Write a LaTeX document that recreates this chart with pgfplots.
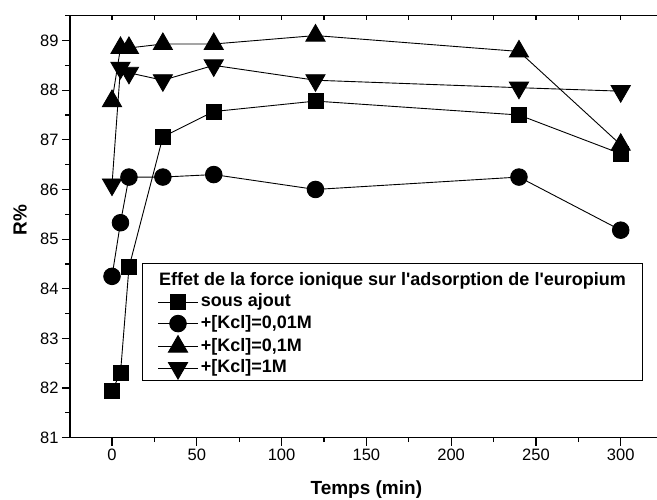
\documentclass[border=0pt]{standalone}
\usepackage{pgfplots}
\pgfplotsset{compat=1.18}
\usepackage{fontspec}
\setmainfont{Liberation Sans}

\begin{document}
\begin{tikzpicture}[x=1pt,y=1pt]
\begin{axis}[
 at={(0,0)}, anchor=south west,
 scale only axis, width=587pt, height=422pt,
 xmin=-24.77, xmax=321.4, ymin=81, ymax=89.5,
 axis x line*=bottom, axis y line*=left,
 axis line style={line width=1.5pt},
 xtick={0,50,...,300}, minor xtick={25,75,...,275},
 ytick={81,...,89}, minor ytick={81.5,82.5,...,89.5},
 tick align=outside,
 major tick length=8pt, minor tick length=4.5pt,
 every tick/.style={line width=1.2pt, black},
 tick label style={font=\fontsize{16.5}{19}\selectfont},
 /pgf/number format/assume math mode=true,
 xlabel={Temps (min)}, ylabel={R\%},
 label style={font=\fontsize{19}{22}\selectfont\bfseries},
 xlabel style={at={(axis description cs:0.5048,0)}, anchor=base, yshift=-57.3pt},
 ylabel style={at={(axis description cs:-0.0852,0.5159)}, anchor=center},
 legend style={at={(rel axis cs:0.1221,0.4147)}, anchor=north west, draw=black, line width=0.8pt,
   font=\fontsize{18}{21}\selectfont\bfseries, cells={anchor=west},
   nodes={inner sep=1pt, text height=13pt, text depth=4pt}, row sep=2.5pt, column sep=1.4pt,
   inner xsep=15.5pt, inner ysep=1pt},
 legend image code/.code={\draw[mark repeat=2,mark phase=2] plot coordinates {(0pt,0pt) (20pt,0pt) (40pt,0pt)};},
 every axis plot/.append style={black, line width=0.9pt, mark options={solid, fill=black}},
]
\addlegendimage{empty legend}
\addlegendentry[text height=20pt]{\hspace{-41.7pt}Effet de la force ionique sur l\textquotesingle adsorption de l\textquotesingle europium}
\addplot[mark=square*, mark size=7.5pt] coordinates {
 (0,81.95) (5,82.3) (10,84.43) (30,87.06) (60,87.57) (120,87.78) (240,87.5) (300,86.72)};
\addlegendentry{sous ajout}
\addplot[mark=*, mark size=8.3pt] coordinates {
 (0,84.25) (5,85.33) (10,86.25) (30,86.25) (60,86.3) (120,86.0) (240,86.25) (300,85.18)};
\addlegendentry{+[Kcl]=0,01M}
\addplot[mark=triangle*, mark size=11pt] coordinates {
 (0,87.78) (5,88.85) (10,88.85) (30,88.93) (60,88.93) (120,89.1) (240,88.78) (300,86.9)};
\addlegendentry{+[Kcl]=0,1M}
\addplot[mark=triangle*, mark size=11pt, mark options={rotate=180}] coordinates {
 (0,86.1) (5,88.45) (10,88.35) (30,88.2) (60,88.5) (120,88.2) (240,88.05) (300,87.98)};
\addlegendentry{+[Kcl]=1M}
\end{axis}
\begin{axis}[
 at={(0,0)}, anchor=south west,
 scale only axis, width=587pt, height=422pt,
 xmin=-24.77, xmax=321.4, ymin=81, ymax=89.5,
 axis x line*=top, axis y line=none,
 axis line style={line width=1.5pt},
 xtick={0,25,...,300}, xticklabels={},
 tick align=inside, major tick length=4.5pt,
 every tick/.style={line width=1.2pt, black},
]
\end{axis}
\pgfresetboundingbox
\path (-70,-62.3) rectangle (587,437.7);
\end{tikzpicture}
\end{document}
